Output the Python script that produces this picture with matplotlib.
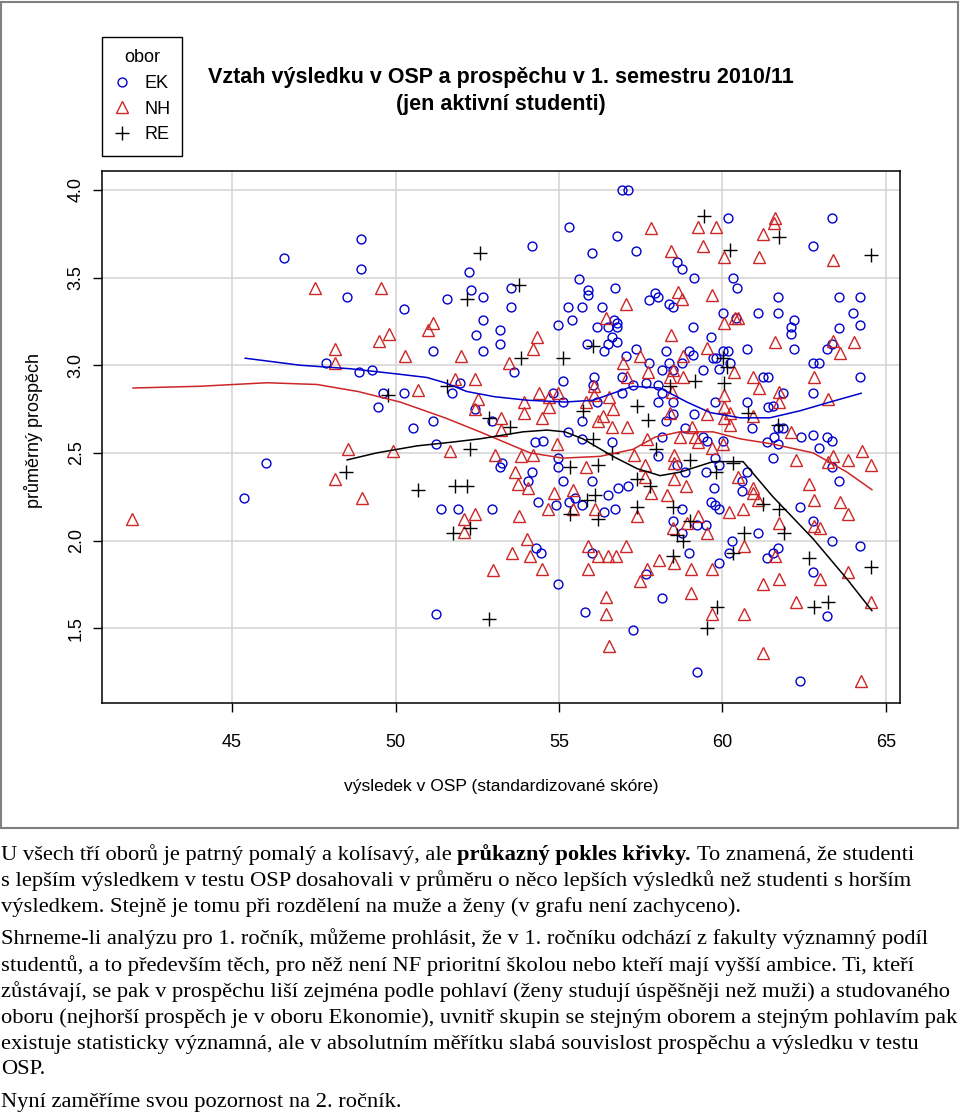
import matplotlib
matplotlib.use("Agg")
import matplotlib.pyplot as plt
from matplotlib.patches import Rectangle

# --- data -----------------------------------------------------------------
ek_x = [45.37, 46.04, 46.59, 48.95, 48.95, 48.52, 50.26, 51.58, 52.25, 52.31, 52.47, 51.15, 47.88, 48.89,
        49.28, 50.26, 51.73, 51.98, 49.47, 49.62, 50.54, 51.15, 51.24, 51.39, 51.92, 51.24, 52.44,
        54.17, 52.68, 53.53, 53.53, 52.68, 53.20, 53.20, 52.68, 54.98, 53.63, 52.96, 54.82, 55.13, 54.51,
        54.27, 53.26, 53.20, 54.17, 54.05, 54.98, 54.98, 55.13, 54.36, 54.91, 52.96, 54.30, 54.45, 54.98,
        56.93, 57.11, 55.30, 56.77, 56.01, 57.36, 58.61, 58.76, 59.13, 60.17, 55.61, 56.71, 55.89, 55.89,
        57.94, 58.03, 57.75, 58.36, 58.49, 56.31, 55.70, 55.27, 55.40, 56.68, 56.77, 56.77, 56.50, 56.16,
        59.10, 56.63, 56.77, 56.50, 56.38, 55.86, 60.01, 59.65, 58.27, 57.36, 58.98, 59.10, 59.71, 59.80,
        60.01, 57.75, 57.05, 58.15, 58.36, 58.76, 58.49, 56.07, 56.04, 56.93, 57.66, 58.03, 57.26, 59.40,
        59.89, 56.93, 56.16, 55.12, 58.03, 58.15, 58.49, 59.77, 59.13, 58.27, 58.49, 55.70, 55.27, 58.85,
        59.40, 59.53, 58.15, 56.62, 60.01, 55.70,
        58.03, 58.61, 58.85, 59.50, 59.89, 59.77, 56.01, 56.50, 56.80, 57.11, 55.31, 55.49, 55.70, 56.38,
        56.71, 58.76, 59.74, 59.65, 59.77, 59.89, 58.49, 59.22, 59.50, 58.76, 58.98, 59.89, 56.01, 57.66,
        58.15, 55.79, 57.26, 59.22,
        63.35, 62.77, 60.32, 60.44, 61.70, 63.56, 64.20, 61.09, 61.70, 63.99, 62.19, 62.09, 62.09, 63.56,
        64.20, 60.75, 62.19, 63.20, 63.35, 62.77, 62.95, 61.24, 61.39, 64.20, 62.77, 61.85, 60.75, 61.39,
        61.54, 60.90, 61.70, 61.85, 62.40, 62.77, 63.20, 63.35, 61.36, 61.57, 60.41, 60.17, 60.23,
        61.70, 61.54, 62.95, 63.35, 63.56, 60.75, 60.60, 60.60, 62.37, 62.77, 63.35, 64.20, 61.09, 61.70,
        61.54, 61.36, 60.29, 60.20, 62.77, 63.20, 62.37]
ek_y = [2.24, 2.44, 3.61, 3.72, 3.55, 3.39, 3.32, 3.38, 3.53, 3.43, 3.17, 3.08, 3.01, 2.96,
        2.97, 2.84, 2.84, 2.90, 2.76, 2.84, 2.64, 2.68, 2.55, 2.18, 2.18, 1.58, 2.75,
        3.68, 3.39, 3.44, 3.33, 3.26, 3.20, 3.12, 3.08, 3.23, 2.96, 2.68, 2.84, 2.91, 2.57,
        2.56, 2.44, 2.42, 2.39, 2.34, 2.47, 2.42, 2.34, 2.22, 2.20, 2.18, 1.96, 1.93, 1.75,
        4.00, 4.00, 3.79, 3.74, 3.64, 3.65, 3.59, 3.55, 3.50, 3.84, 3.49, 3.44, 3.43, 3.40,
        3.41, 3.39, 3.37, 3.35, 3.33, 3.33, 3.33, 3.33, 3.26, 3.26, 3.24, 3.22, 3.22, 3.22,
        3.22, 3.16, 3.13, 3.12, 3.08, 3.12, 3.30, 3.16, 3.08, 3.09, 3.08, 3.06, 3.04, 3.04,
        3.08, 3.01, 3.05, 2.97, 3.01, 3.01, 2.97, 2.93, 2.89, 2.93, 2.90, 2.89, 2.89, 2.97,
        2.98, 2.84, 2.79, 2.79, 2.79, 2.84, 2.79, 2.79, 2.72, 2.68, 2.72, 2.68, 2.62, 2.64,
        2.59, 2.57, 2.59, 2.56, 2.57, 2.58,
        2.48, 2.43, 2.39, 2.39, 2.43, 2.47, 2.34, 2.26, 2.30, 2.31, 2.22, 2.24, 2.20, 2.16,
        2.18, 2.18, 2.30, 2.22, 2.20, 2.18, 2.11, 2.09, 2.09, 2.04, 1.93, 1.87, 1.93, 1.81,
        1.67, 1.59, 1.49, 1.25,
        3.84, 3.68, 3.50, 3.44, 3.39, 3.39, 3.39, 3.30, 3.30, 3.30, 3.26, 3.22, 3.18, 3.21,
        3.23, 3.09, 3.09, 3.09, 3.12, 3.01, 3.01, 2.93, 2.93, 2.93, 2.84, 2.84, 2.79, 2.76,
        2.77, 2.64, 2.64, 2.64, 2.59, 2.60, 2.59, 2.57, 2.56, 2.59, 3.27, 3.08, 3.01,
        2.55, 2.47, 2.53, 2.42, 2.34, 2.39, 2.34, 2.28, 2.19, 2.11, 2.00, 1.97, 2.04, 1.96,
        1.93, 1.90, 2.00, 1.93, 1.82, 1.57, 1.20]

nh_x = [41.94, 47.54, 49.56, 48.15, 48.15, 49.50, 49.80, 50.29, 50.69, 51.00, 51.15, 52.00, 51.82, 52.43,
        48.55, 48.15, 48.98, 49.92, 51.67, 52.09, 52.09, 52.43,
        54.33, 54.20, 53.47, 52.52, 52.43, 53.93, 53.93, 54.39, 54.69, 54.69, 54.48, 54.97, 53.23, 53.23,
        53.04, 53.84, 54.20, 54.94, 53.65, 53.75, 54.05, 54.85, 54.66, 53.78, 54.02, 53.56, 54.12, 54.49,
        52.99,
        57.82, 59.26, 59.80, 58.42, 59.41, 60.05, 58.64, 58.76, 59.68, 57.05, 56.44, 58.42, 59.53, 60.05,
        57.48, 56.96, 57.72, 57.08, 58.79, 58.49, 58.39, 58.79, 56.07, 56.53, 56.07, 55.83, 56.65, 56.35,
        56.19, 57.08, 56.62, 58.39, 58.45, 59.53, 60.05, 60.05, 60.05, 59.07, 58.70, 57.69, 59.16,
        55.83, 55.43, 55.43, 56.10, 57.63, 57.63, 57.81, 57.39, 57.29, 58.52, 58.52, 58.52, 58.88, 58.30,
        59.25, 59.53, 58.91, 58.49, 55.89, 56.19, 56.50, 56.74, 57.05, 55.89, 58.06, 58.52, 57.69, 57.48,
        59.04, 59.68, 59.04, 59.68, 56.44, 56.44, 56.53, 59.25, 59.68, 60.02,
        61.57, 61.61, 61.24, 61.12, 63.38, 60.38, 60.47, 61.61, 63.38, 63.59, 64.02, 60.35, 60.93, 62.80,
        61.12, 61.73, 61.73, 63.23, 60.23, 60.93, 60.23, 62.09,
        62.25, 63.23, 63.38, 63.84, 64.27, 64.54, 62.65, 62.80, 63.59, 63.84, 62.80, 62.98, 61.73, 60.93,
        61.09, 60.63, 60.20, 60.66, 61.61, 61.73, 61.24, 62.98, 63.84, 62.25, 60.66, 64.54, 61.24, 64.24,
        60.47, 60.93]
nh_y = [2.12, 3.44, 3.44, 3.09, 3.01, 3.14, 3.18, 3.05, 2.86, 3.20, 3.24, 3.05, 2.92, 2.92,
        2.52, 2.35, 2.24, 2.51, 2.51, 2.12, 2.05, 2.15,
        3.16, 3.09, 3.01, 2.81, 2.75, 2.79, 2.73, 2.84, 2.82, 2.76, 2.70, 2.84, 2.70, 2.63,
        2.49, 2.48, 2.49, 2.55, 2.39, 2.32, 2.30, 2.27, 2.18, 2.14, 2.01, 1.93, 1.91, 1.84,
        1.83,
        3.78, 3.79, 3.79, 3.65, 3.68, 3.62, 3.42, 3.38, 3.40, 3.35, 3.27, 3.17, 3.10, 3.24,
        3.05, 3.01, 2.96, 2.93, 3.05, 2.97, 2.93, 2.93, 2.88, 2.82, 2.83, 2.79, 2.75, 2.71,
        2.68, 2.65, 2.65, 2.73, 2.85, 2.72, 2.83, 2.76, 2.70, 2.65, 2.59, 2.58, 2.59,
        2.42, 2.29, 2.18, 2.18, 2.43, 2.36, 2.27, 2.14, 2.49, 2.49, 2.44, 2.35, 2.31, 2.26,
        2.14, 2.04, 2.10, 2.07, 1.97, 1.91, 1.91, 1.91, 1.97, 1.84, 1.89, 1.87, 1.84, 1.77,
        1.84, 1.84, 1.70, 1.58, 1.68, 1.58, 1.40, 2.56, 2.53, 2.55,
        3.81, 3.84, 3.75, 3.62, 3.60, 3.27, 3.27, 3.13, 3.14, 3.07, 3.13, 2.96, 2.93, 2.93,
        2.87, 2.85, 2.79, 2.81, 2.73, 2.71, 2.66, 2.62,
        2.46, 2.45, 2.48, 2.46, 2.51, 2.43, 2.32, 2.23, 2.22, 2.15, 2.08, 2.07, 2.10, 2.30,
        2.23, 2.18, 2.16, 1.97, 1.91, 1.78, 1.75, 1.78, 1.82, 1.65, 1.58, 1.65, 1.36, 1.20,
        2.36, 2.27]

re_x = [48.49, 49.77, 51.57, 52.19, 52.58, 50.69, 51.82, 52.19, 51.76, 52.28, 52.28, 53.78, 53.84, 55.12,
        52.86, 53.50, 52.86, 59.43, 56.04, 60.01, 60.14, 58.39, 59.16, 60.05, 57.39, 57.72, 55.73, 56.04,
        55.34, 56.19, 56.62, 57.97, 59.01, 59.80, 57.39, 57.78, 56.10, 55.86, 55.34, 56.19, 57.39, 58.49,
        59.01, 58.61, 58.79, 58.49, 59.83, 59.53, 60.23, 61.73, 64.54, 60.78, 61.70, 60.32, 61.24, 61.73,
        61.88, 60.66, 60.32, 62.65, 64.54, 62.80, 63.23]
re_y = [2.39, 2.83, 2.88, 3.38, 3.64, 2.29, 2.31, 2.31, 2.04, 2.07, 2.52, 3.46, 3.04, 3.04,
        2.70, 2.65, 1.55, 3.85, 3.11, 3.04, 2.99, 2.88, 2.91, 2.90, 2.77, 2.69, 2.74, 2.58,
        2.42, 2.43, 2.50, 2.52, 2.46, 2.39, 2.35, 2.31, 2.26, 2.23, 2.15, 2.12, 2.19, 2.19,
        2.11, 2.03, 2.00, 1.91, 1.62, 1.50, 3.66, 3.73, 3.63, 2.73, 2.66, 2.44, 2.21, 2.18,
        2.04, 2.04, 1.93, 1.90, 1.85, 1.62, 1.65]

# smoothed curves (lowess)
ek_curve_x = [45.40, 47.08, 48.61, 50.05, 50.96, 51.51, 52.18, 53.04, 54.05, 55.18, 56.04, 57.26, 58.09,
              58.91, 59.62, 60.54, 61.45, 62.37, 63.29, 64.24]
ek_curve_y = [3.04, 3.00, 2.98, 2.95, 2.93, 2.90, 2.85, 2.82, 2.80, 2.79, 2.80, 2.88, 2.87,
              2.79, 2.73, 2.70, 2.70, 2.74, 2.79, 2.84]
nh_curve_x = [41.97, 44.02, 46.07, 47.60, 48.85, 50.14, 51.51, 52.58, 54.11, 55.12, 56.25, 57.26, 57.94,
              58.70, 59.71, 60.54, 61.54, 62.77, 63.81, 64.57]
nh_curve_y = [2.87, 2.88, 2.90, 2.89, 2.85, 2.79, 2.70, 2.62, 2.50, 2.47, 2.48, 2.52, 2.59,
              2.62, 2.62, 2.58, 2.55, 2.50, 2.39, 2.29]
re_curve_x = [48.52, 49.43, 50.66, 51.67, 52.58, 53.90, 54.63, 55.18, 55.73, 56.65, 57.39, 58.09, 58.70,
              59.71, 60.63, 61.54, 62.77, 63.81, 64.57]
re_curve_y = [2.46, 2.50, 2.54, 2.56, 2.58, 2.62, 2.63, 2.62, 2.58, 2.48, 2.41, 2.37, 2.39,
              2.45, 2.45, 2.25, 2.01, 1.78, 1.60]

x_ticks = [45, 50, 55, 60, 65]
y_ticks = [1.5, 2.0, 2.5, 3.0, 3.5, 4.0]

title = "Vztah výsledku v OSP a prospěchu v 1. semestru 2010/11\n(jen aktivní studenti)"
xlabel = "výsledek v OSP (standardizované skóre)"
ylabel = "průměrný prospěch"

para_lines = [
    ("U všech tří oborů je patrný pomalý a kolísavý, ale", "průkazný pokles křivky.",
     "To znamená, že studenti"),
    "s lepším výsledkem v testu OSP dosahovali v průměru o něco lepších výsledků než studenti s horším",
    "výsledkem. Stejně je tomu při rozdělení na muže a ženy (v grafu není zachyceno).",
    "Shrneme-li analýzu pro 1. ročník, můžeme prohlásit, že v 1. ročníku odchází z fakulty významný podíl",
    "studentů, a to především těch, pro něž není NF prioritní školou nebo kteří mají vyšší ambice. Ti, kteří",
    "zůstávají, se pak v prospěchu liší zejména podle pohlaví (ženy studují úspěšněji než muži) a studovaného",
    "oboru (nejhorší prospěch je v oboru Ekonomie), uvnitř skupin se stejným oborem a stejným pohlavím pak",
    "existuje statisticky významná, ale v absolutním měřítku slabá souvislost prospěchu a výsledku v testu",
    "OSP.",
    "Nyní zaměříme svou pozornost na 2. ročník.",
]
para_y = [855, 881, 907, 939, 966, 992, 1018, 1044, 1070, 1103]

# --- figure -----------------------------------------------------------------
W, H = 960, 1115
fig = plt.figure(figsize=(W / 100, H / 100), dpi=100)
plt.rcParams['font.family'] = ['Liberation Sans', 'DejaVu Sans']

blue = '#0000CD'
red = '#CD2626'

ax = fig.add_axes([102 / W, 1 - 703 / H, 798 / W, 532 / H])
ax.set_xlim(41.02, 65.43)
ax.set_ylim(1.073, 4.108)
ax.set_xticks(x_ticks)
ax.set_yticks(y_ticks)
ax.set_yticklabels([f"{v:.1f}" for v in y_ticks], rotation=90, va='center')
ax.grid(True, color='#d3d3d3', lw=1.1)
ax.set_axisbelow(True)
for s in ax.spines.values():
    s.set_linewidth(1.1)
ax.tick_params(axis='x', length=6.5, width=1.0, labelsize=13, pad=15.5)
ax.tick_params(axis='y', length=6.5, width=1.0, labelsize=13, pad=6)

h1, = ax.plot(ek_x, ek_y, 'o', ms=6.4, mfc='none', mec=blue, mew=1.0, label='EK')
h2, = ax.plot(nh_x, nh_y, '^', ms=9, mfc='none', mec=red, mew=1.0, label='NH')
h3, = ax.plot(re_x, re_y, '+', ms=9.5, mec='black', mew=1.0, label='RE')
ax.plot(ek_curve_x, ek_curve_y, color=blue, lw=1.1)
ax.plot(nh_curve_x, nh_curve_y, color=red, lw=1.1)
ax.plot(re_curve_x, re_curve_y, color='black', lw=1.1)

fig.text(501 / W, 1 - 91 / H, title, ha='center', va='center', fontsize=15.5,
         fontweight='bold', linespacing=1.32)
fig.text(501 / W, 1 - 787 / H, xlabel, ha='center', va='center', fontsize=12.5)
fig.text(34 / W, 1 - 430 / H, ylabel, ha='center', va='center', fontsize=13, rotation=90)

leg = fig.legend(handles=[h1, h2, h3], title='obor', loc='upper left',
                 bbox_to_anchor=(102 / W, 1 - 37 / H), borderaxespad=0, fancybox=False,
                 edgecolor='black', framealpha=1, fontsize=13, title_fontsize=13,
                 handlelength=0.8, handletextpad=0.85, borderpad=0.68, labelspacing=0.48)
leg.get_frame().set_linewidth(1.0)

# outer gray frame around the chart
fig.patches.append(Rectangle((1 / W, 1 - 828 / H), 957 / W, 826 / H, transform=fig.transFigure,
                             fill=False, edgecolor='#808080', lw=1.5))

# paragraph text below the chart
renderer = fig.canvas.get_renderer()
serif = ['Liberation Serif', 'DejaVu Serif']
fs = 16.2
probe_a = fig.text(0, 0, "xx", family=serif, fontsize=fs)
probe_b = fig.text(0, 0, "x x", family=serif, fontsize=fs)
space_w = (probe_b.get_window_extent(renderer).width - probe_a.get_window_extent(renderer).width)
probe_a.remove()
probe_b.remove()

for line, py in zip(para_lines, para_y):
    y = 1 - py / H
    if isinstance(line, tuple):
        xpix = 1
        for i, part in enumerate(line):
            t = fig.text(xpix / W, y, part, family=serif, fontsize=fs, va='center',
                         fontweight='bold' if i == 1 else 'normal')
            xpix = t.get_window_extent(renderer).x1 + space_w
    else:
        fig.text(1 / W, y, line, family=serif, fontsize=fs, va='center')

fig.savefig('out.png', dpi=100)
